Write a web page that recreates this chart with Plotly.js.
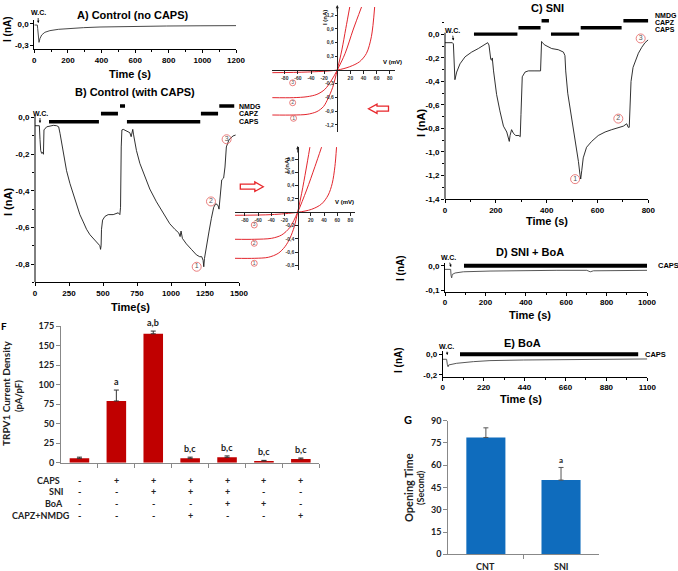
<!DOCTYPE html>
<html>
<head>
<meta charset="utf-8">
<script src="https://cdn.plot.ly/plotly-3.0.1.min.js"></script>
<style>
  html, body { margin: 0; padding: 0; background: #fff; }
  #chart { width: 678px; height: 571px; }
</style>
</head>
<body>
<div id="chart"></div>
<script>
// ---------- Patch-clamp recordings: current (nA) against time (s) ----------
// A) Control (no CAPS)
const timeA = [0, 18, 20, 28, 34, 44, 63, 93, 143, 192, 292, 391, 589, 787, 986, 1200];
const currentA = [-0.014, -0.015, -0.06, -0.254, -0.2, -0.152, -0.115, -0.092, -0.074, -0.065, -0.051, -0.042, -0.032, -0.028, -0.025, -0.023];

// B) Control (with CAPS)
const timeB = [0, 32, 37, 42, 49, 56, 62, 66, 86, 110, 135, 159, 174, 184, 196, 208, 232, 257, 281, 306,
  330, 355, 379, 404, 428, 453, 470, 477, 482, 486, 489, 497, 514, 538, 575, 612, 624, 629, 634, 639,
  649, 673, 697, 707, 714, 719, 724, 734, 746, 771, 808, 844, 893, 942, 991, 1028, 1057, 1067, 1074, 1084,
  1113, 1150, 1187, 1211, 1226, 1236, 1241, 1246, 1260, 1280, 1297, 1314, 1329, 1346, 1353, 1363, 1373, 1387, 1397, 1407,
  1427, 1456, 1475];
const currentB = [-0.044, -0.044, -0.12, -0.18, -0.195, -0.19, -0.2, -0.067, -0.05, -0.044, -0.042, -0.044, -0.05, -0.086, -0.14, -0.2, -0.29, -0.36, -0.42, -0.48,
  -0.53, -0.57, -0.61, -0.64, -0.66, -0.68, -0.69, -0.70, -0.72, -0.70, -0.61, -0.56, -0.54, -0.53, -0.53, -0.52, -0.53, -0.49, -0.16, -0.067,
  -0.064, -0.071, -0.082, -0.104, -0.085, -0.064, -0.09, -0.13, -0.18, -0.25, -0.32, -0.39, -0.46, -0.52, -0.58, -0.61, -0.63, -0.65, -0.62, -0.66,
  -0.69, -0.72, -0.75, -0.76, -0.76, -0.78, -0.815, -0.77, -0.70, -0.62, -0.55, -0.49, -0.47, -0.48, -0.50, -0.40, -0.34, -0.33, -0.27, -0.16,
  -0.12, -0.10, -0.095];
const drugStartB = [103, 485, 625, 676, 1220, 1355];
const drugEndB = [470, 610, 662, 1215, 1346, 1465];
const drugNameB = ['CAPS', 'CAPZ', 'NMDG', 'CAPS', 'CAPZ', 'NMDG'];
const pointTimeB = [1189, 1294, 1409];
const pointCurrentB = [-0.815, -0.458, -0.118];
const pointLabelB = ['1', '2', '3'];

// C) SNI
const timeC = [0, 29, 33, 37, 39, 46, 59, 79, 105, 131, 155, 168, 173, 180, 184, 186, 191, 203, 216, 230,
  243, 253, 256, 262, 269, 278, 291, 296, 299, 304, 315, 328, 354, 376, 380, 383, 393, 420, 446, 466,
  472, 475, 483, 498, 511, 518, 525, 531, 534, 538, 544, 557, 577, 603, 630, 656, 682, 702, 715, 721,
  725, 729, 732, 740, 749, 761, 774, 787, 800];
const currentC = [-0.07, -0.07, -0.08, -0.38, -0.385, -0.32, -0.25, -0.19, -0.15, -0.12, -0.09, -0.07, -0.09, -0.21, -0.22, -0.2, -0.31, -0.51, -0.65, -0.78,
  -0.83, -0.91, -0.86, -0.81, -0.84, -0.86, -0.86, -0.87, -0.68, -0.36, -0.32, -0.31, -0.31, -0.31, -0.06, -0.07, -0.09, -0.12, -0.13, -0.15,
  -0.18, -0.31, -0.50, -0.70, -0.90, -1.0, -1.08, -1.19, -1.23, -1.16, -1.05, -0.96, -0.91, -0.86, -0.83, -0.81, -0.79, -0.78, -0.76, -0.79,
  -0.79, -0.62, -0.40, -0.28, -0.22, -0.16, -0.11, -0.07, -0.045];
const drugStartC = [114, 289, 380, 417, 534, 702];
const drugEndC = [285, 376, 409, 528, 695, 800];
const drugNameC = ['CAPS', 'CAPZ', 'NMDG', 'CAPS', 'CAPZ', 'NMDG'];
const pointTimeC = [512, 682, 770];
const pointCurrentC = [-1.231, -0.716, -0.034];
const pointLabelC = ['1', '2', '3'];

// D) SNI + BoA
const timeD = [0, 28, 30, 33, 36, 50, 91, 223, 554, 702, 719, 735, 1000];
const currentD = [-0.015, -0.015, -0.04, -0.05, -0.036, -0.03, -0.025, -0.022, -0.019, -0.019, -0.025, -0.021, -0.019];
const drugStartD = [94];
const drugEndD = [1000];
const drugNameD = ['CAPS'];

// E) BoA
const timeE = [0, 21, 25, 29, 32, 75, 165, 254, 434, 792, 1100];
const currentE = [-0.048, -0.048, -0.1, -0.12, -0.103, -0.087, -0.071, -0.061, -0.055, -0.048, -0.045];
const drugStartE = [93];
const drugEndE = [1051];
const drugNameE = ['CAPS'];

// ---------- I–V relations (red curves), numbered as in the recordings ----------
const ivTopV1 = [-99, -67, -46, -31, -21, -14, -7, 0, 7, 13, 19];
const ivTopI1 = [-0.985, -0.985, -0.97, -0.91, -0.80, -0.62, -0.38, 0, 0.44, 0.91, 1.38];
const ivTopV2 = [-99, -67, -46, -31, -19, -8.5, 0, 12, 24, 37];
const ivTopI2 = [-0.605, -0.605, -0.584, -0.533, -0.424, -0.219, 0, 0.365, 0.875, 1.38];
const ivTopV3 = [-99, -46, 0, 19, 34, 44.5, 52, 57];
const ivTopI3 = [-0.058, -0.044, 0, 0.073, 0.182, 0.365, 0.73, 1.38];
const ivTopMarkV = [-68, -68, -66.7];
const ivTopMarkI = [-0.28, -0.716, -1.057];

const ivBotV1 = [-95, -65, -44.5, -29.4, -19.2, -11.7, -5.1, 0, 6.1, 12.6, 18.6];
const ivBotI1 = [-0.692, -0.692, -0.677, -0.617, -0.517, -0.391, -0.216, 0, 0.286, 0.636, 0.98];
const ivBotV2 = [-95, -65, -39.4, -24.2, -11.7, 0, 13.6, 26.2, 36.3];
const ivBotI2 = [-0.406, -0.406, -0.391, -0.341, -0.226, 0, 0.335, 0.686, 0.98];
const ivBotV3 = [-95, -40, 0, 21.2, 36.3, 46.4, 52.5, 56.5, 59];
const ivBotI3 = [-0.045, -0.035, 0, 0.045, 0.125, 0.26, 0.436, 0.686, 0.98];
const ivBotMarkV = [-65.8, -65.8, -65.8];
const ivBotMarkI = [-0.191, -0.466, -0.767];
const ivMarkLabels = ['3', '2', '1'];

// ---------- F) TRPV1 current density (pA/pF) ----------
const groupsF = [0, 1, 2, 3, 4, 5, 6];
const densityF = [5.6, 79, 165, 5.6, 6.9, 2.2, 4.7];
const densityErrF = [1.5, 14, 3.5, 1.5, 1.8, 0.8, 1.3];
const signifF = ['', 'a', 'a,b', 'b,c', 'b,c', 'b,c', 'b,c'];
const tableRowsF = ['CAPS', 'SNI', 'BoA', 'CAPZ+NMDG'];
const capsSigns = ['-', '+', '+', '+', '+', '+', '+'];
const sniSigns = ['-', '-', '+', '+', '+', '-', '-'];
const boaSigns = ['-', '-', '-', '-', '+', '+', '-'];
const capzNmdgSigns = ['-', '-', '-', '+', '-', '-', '+'];

// ---------- G) Opening time (s) ----------
const groupsG = ['CNT', 'SNI'];
const openingG = [78.7, 50];
const openingErrG = [6.5, 8.5];
const signifG = ['', 'a'];

// =================== drawing ===================
const W = 678, H = 571;
const TF = 'Liberation Sans, Arial, sans-serif';
const BF = 'Lato, Carlito, sans-serif';
const px = v => v / W;
const py = v => 1 - v / H;
const hdom = (a, b) => [px(a), px(b)];
const vdom = (top, bottom) => [py(bottom), py(top)];

function commaTicks(vals) {
  return vals.map(v => (v === 0 ? '0,0' : v.toFixed(1).replace('.', ',')));
}

function recAxis(domain, range, extra) {
  return Object.assign({
    domain, range, showline: true, linecolor: '#000', linewidth: 1,
    ticks: 'outside', ticklen: 3, tickwidth: 1, tickcolor: '#000',
    showgrid: false, zeroline: false,
    tickfont: { family: TF, size: 8, color: '#000', weight: 'bold' }
  }, extra || {});
}

function drugBars(starts, ends, names, levels, xa, ya, width) {
  const x = [], y = [];
  starts.forEach((s, i) => {
    x.push(s, ends[i], null);
    y.push(levels[names[i]], levels[names[i]], null);
  });
  return { type: 'scatter', mode: 'lines', x, y, xaxis: xa, yaxis: ya,
    line: { color: '#000', width: width }, hoverinfo: 'skip' };
}

function recTrace(x, y, xa, ya, color) {
  return { type: 'scatter', mode: 'lines', x, y, xaxis: xa, yaxis: ya,
    line: { color: color || '#1a1a1a', width: 0.9 }, hoverinfo: 'skip' };
}

function numberedPoints(x, y, labels, xa, ya, size, fsize) {
  return { type: 'scatter', mode: 'markers+text', x, y, text: labels, xaxis: xa, yaxis: ya,
    textposition: 'middle center', cliponaxis: false,
    marker: { symbol: 'circle-open', size: size, color: '#e5605f', line: { width: 0.8 } },
    textfont: { family: TF, size: fsize, color: '#555' }, hoverinfo: 'skip' };
}

function ivCurve(x, y, xa, ya) {
  return { type: 'scatter', mode: 'lines', x, y, xaxis: xa, yaxis: ya,
    line: { color: '#e3262e', width: 1, shape: 'spline', smoothing: 0.9 }, hoverinfo: 'skip' };
}

// vertical bar-level offsets for the drug application lines
const levelsB = { CAPS: -0.022, CAPZ: 0.022, NMDG: 0.064 };
const levelsC = { CAPS: 0.003, CAPZ: 0.057, NMDG: 0.117 };
const levelsDE = { CAPS: 0 };

const data = [
  recTrace(timeA, currentA, 'x', 'y', '#333'),
  recTrace(timeB, currentB, 'x2', 'y2'),
  drugBars(drugStartB, drugEndB, drugNameB, levelsB, 'x2', 'y2', 3.6),
  numberedPoints(pointTimeB, pointCurrentB, pointLabelB, 'x2', 'y2', 9, 7),
  recTrace(timeC, currentC, 'x3', 'y3'),
  drugBars(drugStartC, drugEndC, drugNameC, levelsC, 'x3', 'y3', 3.4),
  numberedPoints(pointTimeC, pointCurrentC, pointLabelC, 'x3', 'y3', 9, 7),
  recTrace(timeD, currentD, 'x4', 'y4', '#444'),
  drugBars(drugStartD, drugEndD, drugNameD, levelsDE, 'x4', 'y4', 4),
  recTrace(timeE, currentE, 'x5', 'y5', '#444'),
  drugBars(drugStartE, drugEndE, drugNameE, levelsDE, 'x5', 'y5', 4),
  { type: 'bar', x: groupsF, y: densityF, xaxis: 'x6', yaxis: 'y6', width: 0.53,
    marker: { color: '#c00000', line: { width: 0 } },
    error_y: { type: 'data', symmetric: false, array: densityErrF, arrayminus: densityErrF.map(() => 0),
      color: '#333', thickness: 1, width: 2.5 }, hoverinfo: 'skip' },
  { type: 'bar', x: [0, 1], y: openingG, xaxis: 'x7', yaxis: 'y7', width: 0.52,
    marker: { color: '#0f6cbd', line: { width: 0 } },
    error_y: { type: 'data', symmetric: false, array: openingErrG, arrayminus: openingErrG.map(() => 0),
      color: '#555', thickness: 1, width: 2.5 }, hoverinfo: 'skip' },
  ivCurve(ivTopV1, ivTopI1, 'x8', 'y8'),
  ivCurve(ivTopV2, ivTopI2, 'x8', 'y8'),
  ivCurve(ivTopV3, ivTopI3, 'x8', 'y8'),
  numberedPoints(ivTopMarkV, ivTopMarkI, ivMarkLabels, 'x8', 'y8', 6, 5),
  ivCurve(ivBotV1, ivBotI1, 'x9', 'y9'),
  ivCurve(ivBotV2, ivBotI2, 'x9', 'y9'),
  ivCurve(ivBotV3, ivBotI3, 'x9', 'y9'),
  numberedPoints(ivBotMarkV, ivBotMarkI, ivMarkLabels, 'x9', 'y9', 6, 5)
];

const yTicksA = [0, -0.3], yTicksB = [0, -0.2, -0.4, -0.6, -0.8];
const yTicksC = [0, -0.2, -0.4, -0.6, -0.8, -1.0, -1.2, -1.4];
const yTicksD = [0, -0.1], yTicksE = [0, -0.2];
const ivTopIt = [1.2, 0.9, 0.6, 0.3, -0.3, -0.6, -0.9, -1.2];
const ivBotIt = [0.8, 0.6, 0.4, 0.2, -0.2, -0.4, -0.6, -0.8];
const ivVt = [-80, -60, -40, -20, 20, 40, 60, 80];

const ivTick = { family: TF, size: 5, color: '#333', weight: 'bold' };
function ivAxis(domain, range, pos, tickvals, ticktext) {
  return { domain, range, anchor: 'free', position: pos, showline: true, linecolor: '#222', linewidth: 1,
    ticks: 'outside', ticklen: 2.5, tickcolor: '#222', tickwidth: 1, showgrid: false, zeroline: false,
    tickvals, ticktext, tickfont: ivTick };
}

const barAxisFont = { family: BF, size: 9, color: '#222', weight: 'bold' };

const layout = {
  width: W, height: H, margin: { l: 0, r: 0, t: 0, b: 0 },
  paper_bgcolor: '#fff', plot_bgcolor: 'rgba(0,0,0,0)', showlegend: false,
  // A
  xaxis: recAxis(hdom(34.3, 236), [0, 1200], { anchor: 'y', dtick: 200, tick0: 0,
    minor: { ticks: 'outside', ticklen: 2, dtick: 100, tickcolor: '#000' } }),
  yaxis: recAxis(vdom(20, 49), [-0.346, 0.055], { anchor: 'x', tickvals: yTicksA, ticktext: commaTicks(yTicksA) }),
  // B
  xaxis2: recAxis(hdom(35, 239), [0, 1500], { anchor: 'y2', dtick: 250, tick0: 0 }),
  yaxis2: recAxis(vdom(101.2, 282.3), [-0.9, 0.09], { anchor: 'x2', showline: false,
    tickvals: yTicksB, ticktext: commaTicks(yTicksB),
    minor: { ticks: 'outside', ticklen: 2, dtick: 0.1, tick0: 0, tickcolor: '#000' } }),
  // C
  xaxis3: recAxis(hdom(445, 648.3), [0, 800], { anchor: 'y3', dtick: 200, tick0: 0,
    minor: { ticks: 'outside', ticklen: 2, dtick: 100, tickcolor: '#000' } }),
  yaxis3: recAxis(vdom(18, 199), [-1.4, 0.14], { anchor: 'x3', showline: false,
    tickvals: yTicksC, ticktext: commaTicks(yTicksC),
    minor: { ticks: 'outside', ticklen: 2, dtick: 0.1, tick0: 0, tickcolor: '#000' } }),
  // D
  xaxis4: recAxis(hdom(445, 647), [0, 1000], { anchor: 'y4', dtick: 200, tick0: 0,
    minor: { ticks: 'outside', ticklen: 2, dtick: 100, tickcolor: '#000' } }),
  yaxis4: recAxis(vdom(262.8, 291.7), [-0.107, 0.012], { anchor: 'x4', tickvals: yTicksD, ticktext: commaTicks(yTicksD) }),
  // E
  xaxis5: recAxis(hdom(442.7, 647.3), [0, 1100], { anchor: 'y5', dtick: 220, tick0: 0,
    minor: { ticks: 'outside', ticklen: 2, dtick: 110, tickcolor: '#000' } }),
  yaxis5: recAxis(vdom(351.2, 376.7), [-0.2165, 0.03], { anchor: 'x5', tickvals: yTicksE, ticktext: commaTicks(yTicksE) }),
  // F
  xaxis6: { domain: hdom(61, 319.3), range: [-0.5, 6.5], anchor: 'y6', showline: true, linecolor: '#888', linewidth: 1,
    tickvals: [0.5, 1.5, 2.5, 3.5, 4.5, 5.5, 6.5], ticks: 'outside', ticklen: 4, tickcolor: '#888',
    showticklabels: false, showgrid: false, zeroline: false },
  yaxis6: { domain: vdom(326, 462.7), range: [0, 175], anchor: 'x6', showline: true, linecolor: '#888', linewidth: 1,
    tickvals: [0, 25, 50, 75, 100, 125, 150, 175], ticks: 'outside', ticklen: 4, tickcolor: '#888',
    tickfont: barAxisFont, showgrid: false, zeroline: false },
  // G
  xaxis7: { domain: hdom(448.3, 598.6), range: [-0.5, 1.5], anchor: 'y7', showline: true, linecolor: '#888', linewidth: 1,
    tickvals: [0.5], ticks: 'outside', ticklen: 4, tickcolor: '#888',
    showticklabels: false, showgrid: false, zeroline: false },
  yaxis7: { domain: vdom(420.7, 554.3), range: [0, 90], anchor: 'x7', showline: true, linecolor: '#888', linewidth: 1,
    tickvals: [0, 15, 30, 45, 60, 75, 90], ticks: 'outside', ticklen: 4, tickcolor: '#888',
    tickfont: barAxisFont, showgrid: false, zeroline: false },
  // I–V insets
  xaxis8: ivAxis(hdom(272, 395), [-99.5, 88], py(70), ivVt, ivVt.map(String)),
  yaxis8: ivAxis(vdom(7, 132), [-1.357, 1.38], px(337.3), ivTopIt, ivTopIt.map(v => v.toFixed(1).replace('.', ','))),
  xaxis9: ivAxis(hdom(235, 355), [-95, 87], py(212.3), ivVt, ivVt.map(String)),
  yaxis9: ivAxis(vdom(147, 270), [-0.868, 0.982], px(297.7), ivBotIt, ivBotIt.map(v => v.toFixed(1).replace('.', ',')))
};

// ---------- texts ----------
function txt(x, y, text, size, opts) {
  return Object.assign({ xref: 'paper', yref: 'paper', x: px(x), y: py(y), text, showarrow: false,
    font: { family: TF, size, color: '#000', weight: 'bold' }, xanchor: 'center', yanchor: 'middle' }, opts || {});
}
function wc(tipX, tipY, textX, textY) {
  return { xref: 'paper', yref: 'paper', x: px(tipX), y: py(tipY), text: 'W.C.', showarrow: true,
    ax: textX - tipX, ay: textY - tipY, arrowhead: 2, arrowsize: 0.6, arrowwidth: 0.8, arrowcolor: '#000',
    standoff: 0, startstandoff: 0, font: { family: TF, size: 7, color: '#000', weight: 'bold' } };
}
function bfont(size, color) { return { family: BF, size, color: color || '#222', weight: 'bold' }; }

const annotations = [
  txt(133, 15, 'A) Control (no CAPS)', 11),
  txt(135, 92, 'B) Control (with CAPS)', 11),
  txt(547, 8.5, 'C) SNI', 11),
  txt(530, 252, 'D) SNI + BoA', 11),
  txt(522, 343, 'E) BoA', 11),
  txt(130, 74, 'Time (s)', 11),
  txt(130, 307, 'Time(s)', 11),
  txt(547, 221, 'Time (s)', 11),
  txt(530, 315, 'Time (s)', 11),
  txt(521, 399, 'Time (s)', 11),
  txt(8, 29, 'I (nA)', 10, { textangle: -90 }),
  txt(8, 202, 'I (nA)', 11, { textangle: -90 }),
  txt(421, 123, 'I (nA)', 11, { textangle: -90 }),
  txt(400, 268, 'I (nA)', 10, { textangle: -90 }),
  txt(399, 360, 'I (nA)', 10, { textangle: -90 }),
  wc(38.3, 23, 38, 13),
  wc(40, 123, 40, 113),
  wc(453.3, 40.5, 452.3, 30.7),
  wc(451, 267, 448.3, 257.7),
  wc(447.3, 355, 446.7, 346.7),
  // drug labels
  txt(237, 106, 'NMDG', 7, { xanchor: 'left' }),
  txt(237, 113.7, 'CAPZ', 7, { xanchor: 'left' }),
  txt(237, 121.7, 'CAPS', 7, { xanchor: 'left' }),
  txt(653, 15, 'NMDG', 7, { xanchor: 'left' }),
  txt(653, 22.3, 'CAPZ', 7, { xanchor: 'left' }),
  txt(653, 29.5, 'CAPS', 7, { xanchor: 'left' }),
  txt(656, 265.5, 'CAPS', 7.5, { xanchor: 'left' }),
  txt(643, 354.5, 'CAPS', 7.5, { xanchor: 'left' }),
  // inset labels
  txt(325, 18, 'I (nA)', 6, { textangle: -90 }),
  txt(392, 62, 'V (mV)', 6),
  txt(287, 166, 'I (nA)', 6, { textangle: -90 }),
  txt(344, 202, 'V (mV)', 6),
  // F
  txt(4, 326, 'F', 10, { font: bfont(10, '#000') }),
  txt(6, 394, 'TRPV1 Current Density', 10, { textangle: -90, font: bfont(10) }),
  txt(18, 396, '(pA/pF)', 9.5, { textangle: -90, font: bfont(9.5) }),
  // G
  txt(408, 419.5, 'G', 11, { font: bfont(11, '#000') }),
  txt(408, 488, 'Opening Time', 11, { textangle: -90, font: bfont(11) }),
  txt(420, 488, '(Second)', 9, { textangle: -90, font: bfont(9) })
];

// significance letters above the bars
groupsF.forEach((g, i) => {
  if (signifF[i]) annotations.push({ xref: 'x6', yref: 'y6', x: g, y: densityF[i] + densityErrF[i], text: signifF[i],
    showarrow: false, xanchor: 'center', yanchor: 'bottom', yshift: 1, font: bfont(9) });
});
openingG.forEach((v, i) => {
  if (signifG[i]) annotations.push({ xref: 'x7', yref: 'y7', x: i, y: v + openingErrG[i], text: signifG[i],
    showarrow: false, xanchor: 'center', yanchor: 'bottom', yshift: 0, font: bfont(8) });
});
groupsG.forEach((name, i) => {
  annotations.push({ xref: 'x7', yref: 'paper', x: i, y: py(566), text: name, showarrow: false,
    xanchor: 'center', yanchor: 'middle', font: bfont(9) });
});

// treatment table under F
const tableRowY = [480, 491.7, 503.3, 515];
const tableRowRight = [62, 66, 65, 72];
const tableSigns = [capsSigns, sniSigns, boaSigns, capzNmdgSigns];
tableRowsF.forEach((row, r) => {
  annotations.push(txt(tableRowRight[r], tableRowY[r], row, 9, { xanchor: 'right', font: bfont(9) }));
  tableSigns[r].forEach((s, i) => {
    annotations.push({ xref: 'x6', yref: 'paper', x: groupsF[i], y: py(tableRowY[r]), text: s,
      showarrow: false, xanchor: 'center', yanchor: 'middle', font: bfont(9) });
  });
});

// arrowheads on the inset current axes
[[337.3, 5], [297.7, 146]].forEach(([x, y]) => {
  annotations.push({ xref: 'paper', yref: 'paper', x: px(x), y: py(y), text: '', showarrow: true,
    ax: 0, ay: 8, arrowhead: 2, arrowsize: 0.7, arrowwidth: 0.9, arrowcolor: '#222' });
});
layout.annotations = annotations;

// ---------- shapes: y-axis lines of B and C, hollow red arrows ----------
function hollowArrow(tipX, tipY, dir, headLen, headHalf, bodyHalf, totalLen) {
  const neck = tipX - dir * headLen, tail = tipX - dir * totalLen;
  const pts = [[tipX, tipY], [neck, tipY - headHalf], [neck, tipY - bodyHalf], [tail, tipY - bodyHalf],
    [tail, tipY + bodyHalf], [neck, tipY + bodyHalf], [neck, tipY + headHalf]];
  return 'M' + pts.map(p => px(p[0]).toFixed(5) + ',' + py(p[1]).toFixed(5)).join(' L') + ' Z';
}
layout.shapes = [
  { type: 'line', xref: 'paper', yref: 'y2', x0: px(35), x1: px(35), y0: -0.9, y1: 0.012, line: { color: '#000', width: 1 } },
  { type: 'line', xref: 'paper', yref: 'y3', x0: px(445), x1: px(445), y0: -1.4, y1: 0.015, line: { color: '#000', width: 1 } },
  { type: 'path', xref: 'paper', yref: 'paper', path: hollowArrow(368.5, 108.7, -1, 8.5, 4.6, 2.5, 20),
    line: { color: '#e8262a', width: 1.3 }, fillcolor: '#fff' },
  { type: 'path', xref: 'paper', yref: 'paper', path: hollowArrow(263.3, 186.7, 1, 8.5, 4.8, 2.5, 23),
    line: { color: '#e8262a', width: 1.3 }, fillcolor: '#fff' }
];

Plotly.newPlot('chart', data, layout, { staticPlot: true, displayModeBar: false });
</script>
</body>
</html>
